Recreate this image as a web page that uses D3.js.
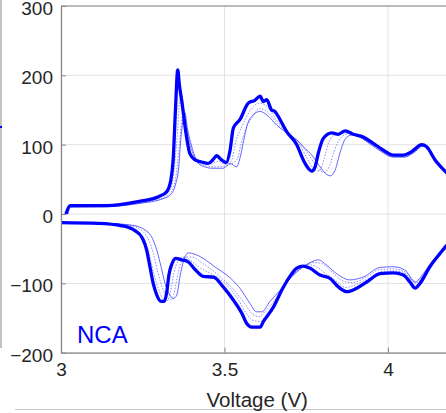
<!DOCTYPE html>
<html>
<head>
<meta charset="utf-8">
<script src="https://cdn.jsdelivr.net/npm/d3@7"></script>
<style>
  body { margin: 0; background: #fff; }
  svg { display: block; font-family: "Liberation Sans", Arial, sans-serif; }
</style>
</head>
<body>
<svg id="svg" width="446" height="413"></svg>
<script>
// charge (positive) and discharge (negative) dQ/dV curves, [voltage, value]
const chargeFirst = [[3.015,0],[3.028,12],[3.14,12],[3.236,18],[3.298,25],[3.323,32],[3.336,49],[3.343,78],[3.35,150],[3.357,208],[3.362,186],[3.369,164],[3.384,111],[3.394,87],[3.41,78],[3.43,75],[3.45,73],[3.464,78],[3.476,84],[3.491,78],[3.505,74],[3.517,92],[3.527,124],[3.547,136],[3.573,160],[3.593,164],[3.609,170],[3.619,162],[3.629,165],[3.644,150],[3.654,148],[3.67,136],[3.69,119],[3.721,100],[3.741,78],[3.756,66],[3.767,62],[3.777,68],[3.787,88],[3.802,109],[3.828,117],[3.848,115],[3.869,120],[3.894,115],[3.924,111],[3.955,102],[3.986,92],[4.016,85],[4.047,85],[4.072,90],[4.103,100],[4.118,97],[4.144,78],[4.174,62],[4.2,50]];
const chargeMidA = [[3.02,0],[3.03,11],[3.14,11.5],[3.236,17],[3.31,26],[3.335,36],[3.345,60],[3.355,110],[3.362,160],[3.368,175],[3.375,150],[3.39,108],[3.41,82],[3.43,74],[3.46,72],[3.48,76],[3.5,72],[3.52,76],[3.535,105],[3.555,128],[3.58,150],[3.605,160],[3.63,155],[3.66,135],[3.7,116],[3.73,100],[3.755,78],[3.775,64],[3.79,62],[3.805,80],[3.82,105],[3.84,115],[3.87,117],[3.9,113],[3.95,101],[4.0,88],[4.04,84],[4.075,89],[4.105,99],[4.12,96],[4.146,77],[4.2,50]];
const chargeMidB = [[3.02,0],[3.03,10.5],[3.14,11],[3.236,16],[3.315,24],[3.337,32],[3.35,50],[3.362,100],[3.37,140],[3.376,150],[3.383,128],[3.395,100],[3.415,76],[3.44,70],[3.47,68],[3.5,69],[3.52,72],[3.54,80],[3.55,100],[3.565,122],[3.585,140],[3.607,152],[3.63,148],[3.66,131],[3.7,115],[3.735,100],[3.76,84],[3.785,66],[3.805,60],[3.82,68],[3.835,90],[3.855,110],[3.88,116],[3.91,112],[3.95,101],[4.0,86],[4.045,83],[4.076,88],[4.106,98],[4.121,95],[4.147,76],[4.2,50]];
const chargeLast = [[3.02,0],[3.03,10],[3.14,10.5],[3.236,15],[3.318,23],[3.339,30],[3.351,44],[3.359,63],[3.367,111],[3.374,138],[3.379,146],[3.386,125],[3.4,97],[3.42,73],[3.44,68],[3.461,66],[3.496,66],[3.517,73],[3.537,68],[3.547,80],[3.557,102],[3.568,126],[3.588,143],[3.609,148],[3.629,143],[3.66,128],[3.7,114],[3.721,107],[3.741,97],[3.767,85],[3.792,68],[3.813,57],[3.823,55],[3.838,63],[3.853,88],[3.869,108],[3.889,114],[3.914,111],[3.945,101],[3.976,91],[4.016,82],[4.052,82],[4.077,88],[4.108,98],[4.123,95],[4.149,75],[4.174,61],[4.2,50]];

const dischargeFirst = [[3.0,-12.5],[3.114,-13.5],[3.186,-17],[3.226,-24],[3.249,-35],[3.262,-52],[3.272,-76],[3.282,-100],[3.293,-117],[3.306,-126],[3.316,-126],[3.323,-114],[3.33,-88],[3.34,-71],[3.351,-64],[3.369,-66],[3.389,-69],[3.41,-80],[3.435,-90],[3.466,-91],[3.496,-105],[3.527,-124],[3.553,-143],[3.568,-158],[3.583,-163],[3.609,-163],[3.619,-155],[3.65,-134],[3.675,-110],[3.7,-90],[3.721,-78],[3.741,-75],[3.761,-78],[3.792,-88],[3.823,-93],[3.848,-105],[3.874,-112],[3.904,-107],[3.935,-98],[3.976,-86],[4.016,-85],[4.047,-88],[4.067,-98],[4.083,-107],[4.098,-100],[4.128,-76],[4.159,-57],[4.18,-45],[4.2,-37]];
const dischargeMidA = [[3.0,-12.5],[3.114,-13.3],[3.2,-17],[3.24,-27],[3.258,-40],[3.272,-62],[3.285,-88],[3.298,-108],[3.312,-122],[3.325,-125],[3.335,-112],[3.345,-86],[3.357,-68],[3.37,-62],[3.39,-65],[3.42,-76],[3.45,-84],[3.48,-92],[3.51,-104],[3.54,-122],[3.565,-142],[3.585,-153],[3.61,-155],[3.625,-148],[3.655,-130],[3.68,-107],[3.705,-90],[3.73,-78],[3.755,-73],[3.78,-76],[3.81,-86],[3.84,-96],[3.87,-106],[3.9,-102],[3.94,-93],[3.98,-83],[4.02,-82],[4.05,-85],[4.07,-94],[4.085,-104],[4.1,-96],[4.13,-73],[4.2,-38]];
const dischargeMidB = [[3.0,-12.5],[3.114,-13.1],[3.21,-16.5],[3.25,-25],[3.268,-37],[3.283,-58],[3.296,-84],[3.31,-106],[3.324,-120],[3.335,-124],[3.345,-116],[3.355,-92],[3.365,-72],[3.38,-62],[3.4,-62],[3.43,-70],[3.465,-82],[3.495,-94],[3.53,-110],[3.56,-128],[3.585,-144],[3.605,-148],[3.625,-140],[3.655,-124],[3.68,-106],[3.71,-88],[3.74,-76],[3.77,-70],[3.795,-71],[3.825,-82],[3.86,-96],[3.89,-99],[3.93,-92],[3.975,-80],[4.016,-79],[4.05,-83],[4.075,-94],[4.085,-100],[4.105,-90],[4.135,-70],[4.2,-39]];
const dischargeLast = [[3.0,-12.5],[3.114,-13],[3.216,-16],[3.257,-23],[3.277,-33],[3.293,-52],[3.306,-76],[3.318,-100],[3.333,-117],[3.343,-122],[3.354,-117],[3.364,-90],[3.374,-69],[3.389,-56],[3.41,-58],[3.435,-64],[3.476,-78],[3.507,-88],[3.547,-107],[3.578,-129],[3.598,-141],[3.614,-141],[3.639,-126],[3.67,-110],[3.7,-93],[3.736,-78],[3.767,-69],[3.787,-66],[3.813,-74],[3.843,-86],[3.884,-95],[3.924,-91],[3.976,-77],[4.016,-76],[4.052,-81],[4.083,-98],[4.108,-86],[4.139,-66],[4.18,-47],[4.2,-40]];

const xTicks = [3, 3.5, 4];
const yTicks = [-200, -100, 0, 100, 200, 300];

const svg = d3.select("#svg");
const plotLeft = 61, plotTop = 6, plotRight = 453.4, plotBottom = 352.7;

const x = d3.scaleLinear().domain([3, 4.2]).range([plotLeft, plotRight]);
const y = d3.scaleLinear().domain([-200, 300]).range([plotBottom, plotTop]);

// bits of the neighbouring panel and figure edge
svg.append("line").attr("x1", 1).attr("x2", 1).attr("y1", 0).attr("y2", 348)
  .attr("stroke", "#9a9a9a").attr("stroke-width", 1.2);
svg.append("line").attr("x1", 0).attr("x2", 2).attr("y1", 127).attr("y2", 127)
  .attr("stroke", "#0000ff").attr("stroke-width", 2);
svg.append("line").attr("x1", 15).attr("x2", 446).attr("y1", 409.5).attr("y2", 409.5)
  .attr("stroke", "#c8c8c8").attr("stroke-width", 1);

// grid
const grid = svg.append("g");
grid.selectAll(".gx").data(xTicks).enter().append("line")
  .attr("x1", x).attr("x2", x).attr("y1", plotTop).attr("y2", plotBottom)
  .attr("stroke", "#e3e3e3").attr("stroke-width", 1);
grid.selectAll(".gy").data(yTicks).enter().append("line")
  .attr("x1", plotLeft).attr("x2", plotRight).attr("y1", y).attr("y2", y)
  .attr("stroke", "#e3e3e3").attr("stroke-width", 1);

svg.append("clipPath").attr("id", "clip").append("rect")
  .attr("x", plotLeft).attr("y", plotTop).attr("width", plotRight - plotLeft).attr("height", plotBottom - plotTop);

const line = d3.line().x(d => x(d[0])).y(d => y(d[1])).curve(d3.curveMonotoneX);
const curves = svg.append("g").attr("clip-path", "url(#clip)");

function draw(data, width, opacity, dash) {
  curves.append("path").datum(data)
    .attr("d", line)
    .attr("fill", "none")
    .attr("stroke", "#0000ff")
    .attr("stroke-width", width)
    .attr("stroke-opacity", opacity)
    .attr("stroke-dasharray", dash)
    .attr("stroke-linejoin", "round");
}

draw(chargeMidA, 1, 0.45, "1.5,1.5");
draw(chargeMidB, 1, 0.45, "1.5,1.5");
draw(dischargeMidA, 1, 0.45, "1.5,1.5");
draw(dischargeMidB, 1, 0.45, "1.5,1.5");
draw(chargeLast, 1, 0.6, null);
draw(dischargeLast, 1, 0.6, null);
draw(chargeFirst, 3.3, 1, null);
draw(dischargeFirst, 3.3, 1, null);

// axes, MATLAB style: ticks inward, box
const yAxis = d3.axisLeft(y).tickValues(yTicks).tickSizeInner(-5).tickSizeOuter(0).tickPadding(8);
const xAxis = d3.axisBottom(x).tickValues(xTicks).tickFormat(d3.format("")).tickSizeInner(-5).tickSizeOuter(0).tickPadding(10);

const gy = svg.append("g").attr("transform", `translate(${plotLeft},0)`).call(yAxis);
const gx = svg.append("g").attr("transform", `translate(0,${plotBottom})`).call(xAxis);
[gx, gy].forEach(g => {
  g.select(".domain").attr("stroke", "#868686").attr("stroke-width", 1.2);
  g.selectAll(".tick line").attr("stroke", "#868686");
  g.selectAll(".tick text").attr("fill", "#262626").style("font-size", "19px")
    .style("font-family", "'Liberation Sans', Arial, sans-serif");
});
gy.selectAll(".tick text").attr("dy", "0.45em");

svg.append("line").attr("x1", plotLeft).attr("x2", 446).attr("y1", plotTop).attr("y2", plotTop)
  .attr("stroke", "#868686").attr("stroke-width", 1.2);

svg.append("text").attr("x", (plotLeft + plotRight) / 2).attr("y", 407)
  .attr("text-anchor", "middle").attr("fill", "#262626")
  .style("font-size", "20.5px").text("Voltage (V)");

svg.append("text").attr("x", 77).attr("y", 342.5)
  .attr("fill", "#0000ff").style("font-size", "24px").text("NCA");
</script>
</body>
</html>
